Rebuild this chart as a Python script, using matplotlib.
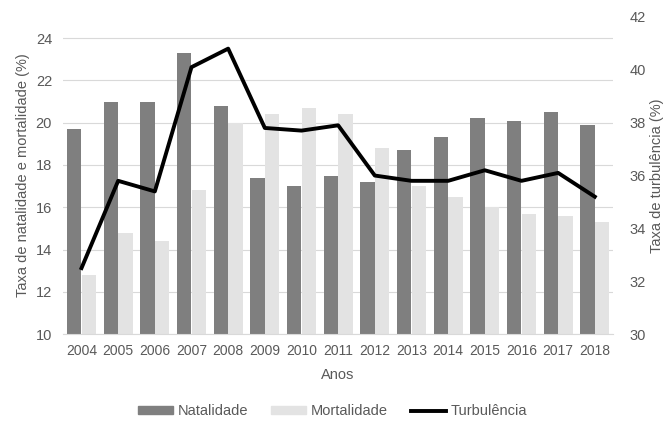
import numpy as np
import matplotlib.pyplot as plt
from matplotlib.lines import Line2D
from matplotlib.patches import Patch

plt.rcParams['font.family'] = ['Liberation Sans', 'DejaVu Sans']

anos = ['2004', '2005', '2006', '2007', '2008', '2009', '2010', '2011',
        '2012', '2013', '2014', '2015', '2016', '2017', '2018']
natalidade = [19.7, 21.0, 21.0, 23.3, 20.8, 17.4, 17.0, 17.5,
              17.2, 18.7, 19.3, 20.2, 20.1, 20.5, 19.9]
mortalidade = [12.8, 14.8, 14.4, 16.8, 20.0, 20.4, 20.7, 20.4,
               18.8, 17.0, 16.5, 16.0, 15.7, 15.6, 15.3]
turbulencia = [32.5, 35.8, 35.4, 40.1, 40.8, 37.8, 37.7, 37.9,
               36.0, 35.8, 35.8, 36.2, 35.8, 36.1, 35.2]

cor_txt = '#595959'
cor_nat = '#7f7f7f'
cor_mort = '#e3e3e3'
fs = 10.5

fig = plt.figure(figsize=(6.65, 4.23), dpi=100)
ax = fig.add_axes([0.095, 0.21, 0.827, 0.75])
x = np.arange(len(anos))
w = 0.4

ax.bar(x - w / 2, natalidade, width=w * 0.97, color=cor_nat, zorder=2)
ax.bar(x + w / 2, mortalidade, width=w * 0.97, color=cor_mort, zorder=2)
ax.set_ylim(10, 25)
ax.set_yticks(range(10, 25, 2))
ax.set_xlim(-0.5, len(anos) - 0.5)
ax.set_xticks(x)
ax.set_xticklabels(anos)
ax.yaxis.grid(True, color='#d9d9d9', linewidth=0.8, zorder=0)
ax.set_axisbelow(True)
for s in ['top', 'right', 'left']:
    ax.spines[s].set_visible(False)
ax.spines['bottom'].set_color('#d9d9d9')
ax.tick_params(axis='x', length=0, labelsize=10, colors=cor_txt, pad=7)
ax.tick_params(axis='y', length=0, labelsize=10.5, colors=cor_txt, pad=8)
ax.set_ylabel('Taxa de natalidade e mortalidade (%)', fontsize=fs, color=cor_txt, labelpad=4)
ax.set_xlabel('Anos', fontsize=fs, color=cor_txt, labelpad=7)

ax2 = ax.twinx()
ax2.plot(x, turbulencia, color='black', linewidth=2.8, zorder=3)
ax2.set_ylim(30, 42)
ax2.set_yticks(range(30, 43, 2))
for s in ax2.spines.values():
    s.set_visible(False)
ax2.tick_params(length=0, labelsize=10.5, colors=cor_txt, pad=12)
ax2.set_ylabel('Taxa de turbulência (%)', fontsize=fs, color=cor_txt, labelpad=3)

handles = [Patch(color=cor_nat), Patch(color=cor_mort),
           Line2D([0], [0], color='black', linewidth=2.8)]
fig.legend(handles, ['Natalidade', 'Mortalidade', 'Turbulência'],
           loc='lower center', bbox_to_anchor=(0.5, -0.02), ncol=3, frameon=False,
           fontsize=fs, labelcolor=cor_txt, handlelength=2.4, handleheight=0.5,
           columnspacing=1.6, handletextpad=0.3)

fig.savefig('out.png', dpi=100)
